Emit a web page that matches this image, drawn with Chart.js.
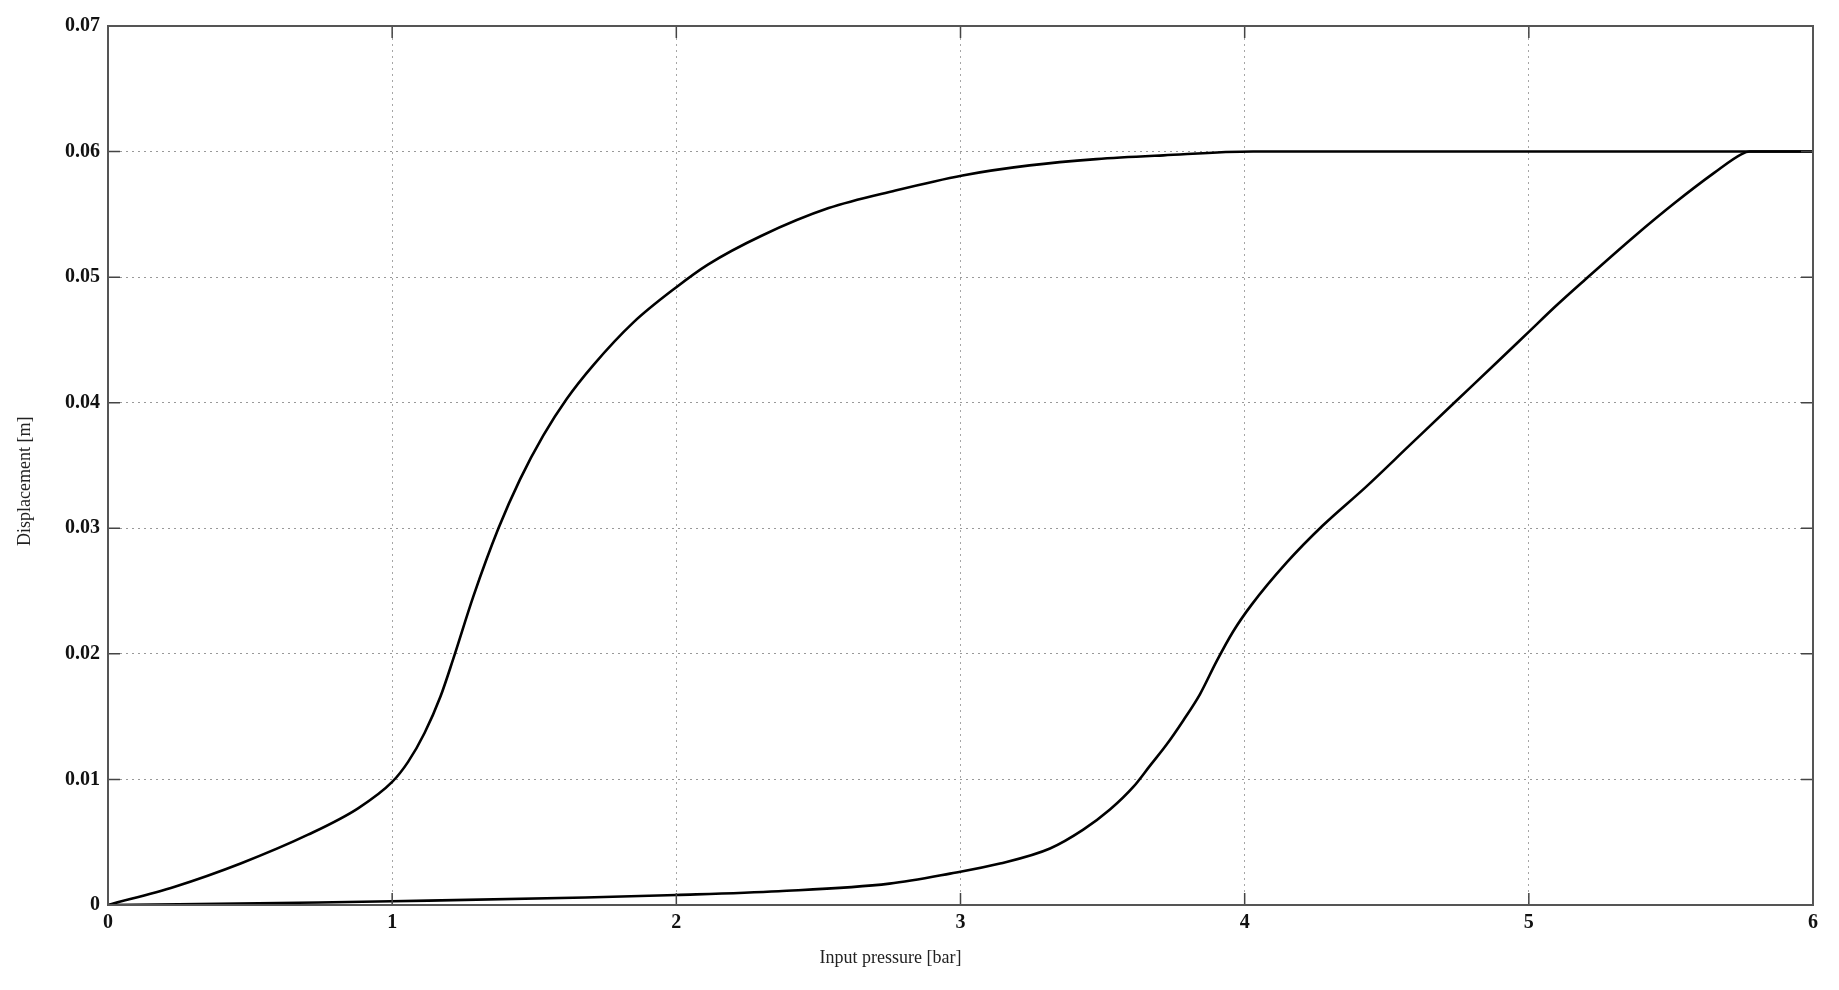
<!DOCTYPE html>
<html>
<head>
<meta charset="utf-8">
<script src="https://cdn.jsdelivr.net/npm/chart.js@4/dist/chart.umd.min.js"></script>
<style>
  html, body { margin: 0; padding: 0; background: #ffffff; }
  #wrap { width: 1839px; height: 990px; position: relative; }
</style>
</head>
<body>
<div id="wrap"><canvas id="c" width="1839" height="990"></canvas></div>
<script>
// ---- data ----
const xTickValues = [0, 1, 2, 3, 4, 5, 6];
const xTickLabels = ['0', '1', '2', '3', '4', '5', '6'];
const yTickValues = [0, 0.01, 0.02, 0.03, 0.04, 0.05, 0.06, 0.07];
const yTickLabels = ['0', '0.01', '0.02', '0.03', '0.04', '0.05', '0.06', '0.07'];

const upperX = [0, 0.235, 0.469, 0.704, 0.88, 1.0, 1.056, 1.114, 1.17, 1.215, 1.286, 1.374, 1.45, 1.532, 1.614, 1.708, 1.849, 2.0, 2.111, 2.3, 2.536, 2.771, 3.007, 3.243, 3.478, 3.714, 4.03, 5.0, 6.0];
const upperY = [0, 0.00146, 0.00333, 0.0056, 0.0077, 0.0098, 0.0114, 0.0137, 0.0166, 0.0196, 0.0246, 0.0300, 0.0339, 0.0374, 0.0403, 0.0430, 0.0464, 0.0492, 0.0510, 0.0533, 0.0555, 0.0569, 0.0581, 0.0589, 0.0594, 0.0597, 0.0600, 0.0600, 0.0600];

const lowerX = [0, 0.74, 1.0, 1.68, 2.0, 2.36, 2.75, 2.963, 3.139, 3.315, 3.432, 3.526, 3.608, 3.667, 3.726, 3.784, 3.843, 3.901, 3.96, 4.024, 4.149, 4.274, 4.427, 4.58, 4.733, 4.887, 4.998, 5.095, 5.193, 5.374, 5.513, 5.652, 5.749, 5.777, 6.0];
const lowerY = [0, 0.0002, 0.0003, 0.0006, 0.0008, 0.0011, 0.0017, 0.0025, 0.0033, 0.0045, 0.0060, 0.0076, 0.0094, 0.0111, 0.0128, 0.0147, 0.0168, 0.0194, 0.0218, 0.0239, 0.0273, 0.0302, 0.0333, 0.0366, 0.0399, 0.0432, 0.0456, 0.0477, 0.0497, 0.0533, 0.0559, 0.0583, 0.0598, 0.0600, 0.0600];

const xTitle = 'Input pressure [bar]';
const yTitle = 'Displacement [m]';

// ---- build chart ----
const toPts = (xs, ys) => xs.map((x, i) => ({ x: x, y: ys[i] }));

const frameAndTicks = {
  id: 'frameAndTicks',
  afterDatasetsDraw(chart) {
    const { ctx, chartArea: a, scales } = chart;
    ctx.save();
    ctx.strokeStyle = '#444';
    ctx.lineWidth = 1.5;
    const L = 12;
    xTickValues.forEach(v => {
      const px = scales.x.getPixelForValue(v);
      ctx.beginPath();
      ctx.moveTo(px, a.bottom); ctx.lineTo(px, a.bottom - L);
      ctx.moveTo(px, a.top); ctx.lineTo(px, a.top + L);
      ctx.stroke();
    });
    yTickValues.forEach(v => {
      const py = scales.y.getPixelForValue(v);
      ctx.beginPath();
      ctx.moveTo(a.left, py); ctx.lineTo(a.left + L, py);
      ctx.moveTo(a.right, py); ctx.lineTo(a.right - L, py);
      ctx.stroke();
    });
    ctx.strokeStyle = '#555';
    ctx.lineWidth = 2;
    ctx.strokeRect(a.left, a.top, a.right - a.left, a.bottom - a.top);
    // axis titles
    ctx.fillStyle = '#222';
    ctx.font = '18px "Liberation Serif", "DejaVu Serif", serif';
    ctx.textAlign = 'center';
    ctx.textBaseline = 'middle';
    ctx.fillText(xTitle, a.left + (a.right - a.left) * 0.459, 958);
    ctx.translate(25, a.top + (a.bottom - a.top) * 0.518);
    ctx.rotate(-Math.PI / 2);
    ctx.fillText(yTitle, 0, 0);
    ctx.restore();
  }
};

new Chart(document.getElementById('c'), {
  type: 'scatter',
  data: {
    datasets: [
      { data: toPts(upperX, upperY), showLine: true, borderColor: '#000', borderWidth: 2.6,
        pointRadius: 0, cubicInterpolationMode: 'monotone', fill: false },
      { data: toPts(lowerX, lowerY), showLine: true, borderColor: '#000', borderWidth: 2.6,
        pointRadius: 0, cubicInterpolationMode: 'monotone', fill: false }
    ]
  },
  options: {
    responsive: false,
    animation: false,
    devicePixelRatio: 1,
    layout: { padding: { left: 0, right: 26, top: 26, bottom: 0 } },
    plugins: { legend: { display: false }, tooltip: { enabled: false } },
    scales: {
      x: {
        type: 'linear', min: 0, max: 6,
        afterBuildTicks: s => { s.ticks = xTickValues.map(v => ({ value: v })); },
        afterFit: s => { s.height = 85; },
        ticks: {
          callback: (v) => xTickLabels[xTickValues.indexOf(v)],
          color: '#111', padding: 6, maxRotation: 0,
          font: { family: '"Liberation Serif", "DejaVu Serif", serif', size: 20, weight: 'bold' }
        },
        grid: { color: 'rgba(0,0,0,0.35)', lineWidth: 1, drawTicks: false },
        border: { display: false, dash: [2, 4] }
      },
      y: {
        type: 'linear', min: 0, max: 0.07,
        afterBuildTicks: s => { s.ticks = yTickValues.map(v => ({ value: v })); },
        afterFit: s => { s.width = 108; },
        ticks: {
          callback: (v) => { const i = yTickValues.findIndex(t => Math.abs(t - v) < 1e-9); return yTickLabels[i]; },
          color: '#111', padding: 8,
          font: { family: '"Liberation Serif", "DejaVu Serif", serif', size: 20, weight: 'bold' }
        },
        grid: { color: 'rgba(0,0,0,0.4)', lineWidth: 1, drawTicks: false },
        border: { display: false, dash: [2, 4] }
      }
    }
  },
  plugins: [frameAndTicks]
});
</script>
</body>
</html>
